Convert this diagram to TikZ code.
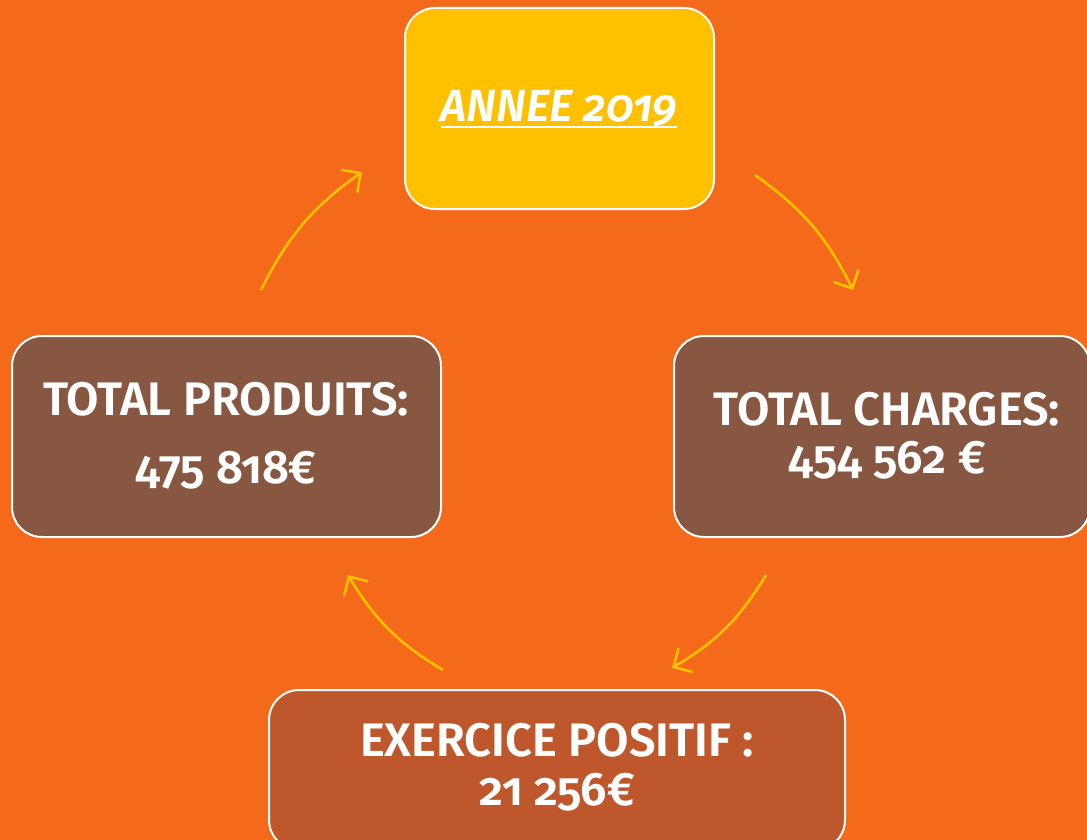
\documentclass[tikz,border=0pt]{standalone}
\usepackage{fontspec}
\setmainfont{Fira Sans}[Numbers=OldStyle, BoldFont={Fira Sans SemiBold}, BoldItalicFont={Fira Sans SemiBold Italic}]
\usetikzlibrary{arrows.meta}
\definecolor{bgc}{HTML}{F4691A}
\definecolor{goldc}{HTML}{FFC000}
\definecolor{brownc}{HTML}{875741}
\definecolor{rustc}{HTML}{BE582C}
\begin{document}
\begin{tikzpicture}[x=1pt,y=-1pt,
  box/.style={draw=white, line width=2pt, rounded corners=30pt, inner sep=0pt},
  lbl/.style={text=white, font=\bfseries\fontsize{47}{50}\selectfont, anchor=base, inner sep=0pt},
  arr/.style={draw=goldc, line width=2.6pt, -{Straight Barb[length=14pt,width=28pt,line width=2.6pt]}}]
\fill[bgc] (0,0) rectangle (1087,840);
\useasboundingbox (0,0) rectangle (1087,840);
\node[box, fill=goldc, minimum width=309pt, minimum height=201pt] (top) at (559.5,108.5) {};
\node[box, fill=brownc, minimum width=429pt, minimum height=201pt] (left) at (226.5,436.5) {};
\node[box, fill=brownc, minimum width=416pt, minimum height=201pt] (right) at (882,436.5) {};
\node[box, fill=rustc, minimum width=576pt, minimum height=160pt] (bottom) at (557,770) {};
\node[lbl, font=\bfseries\itshape\fontsize{45}{50}\selectfont] (ttop) at (559,122) {ANNEE 2019};
\draw[white, line width=2.4pt] ([yshift=-5pt]ttop.base west) -- ([yshift=-5pt]ttop.base east);
\node[lbl] (tl1) at (226,415) {TOTAL PRODUITS:};
\node[lbl] (tl2) at (226,483) {475 818€};
\node[lbl] (tr1) at (887,425) {TOTAL CHARGES:};
\node[lbl] (tr2) at (887,473) {454 562 €};
\node[lbl] (tb1) at (557,756) {EXERCICE POSITIF :};
\node[lbl] (tb2) at (557,805) {21 256€};
\coordinate (a1s) at (261,290); \coordinate (a1e) at (362,172);
\coordinate (a2s) at (755,175); \coordinate (a2e) at (853,290);
\coordinate (a3s) at (766,575); \coordinate (a3e) at (672,668);
\coordinate (a4s) at (443,670); \coordinate (a4e) at (348,575);
\draw[arr] (a1s) to[bend left=14] (a1e);
\draw[arr] (a2s) to[bend left=14] (a2e);
\draw[arr] (a3s) to[bend left=14] (a3e);
\draw[arr] (a4s) to[bend left=14] (a4e);
\end{tikzpicture}
\end{document}
